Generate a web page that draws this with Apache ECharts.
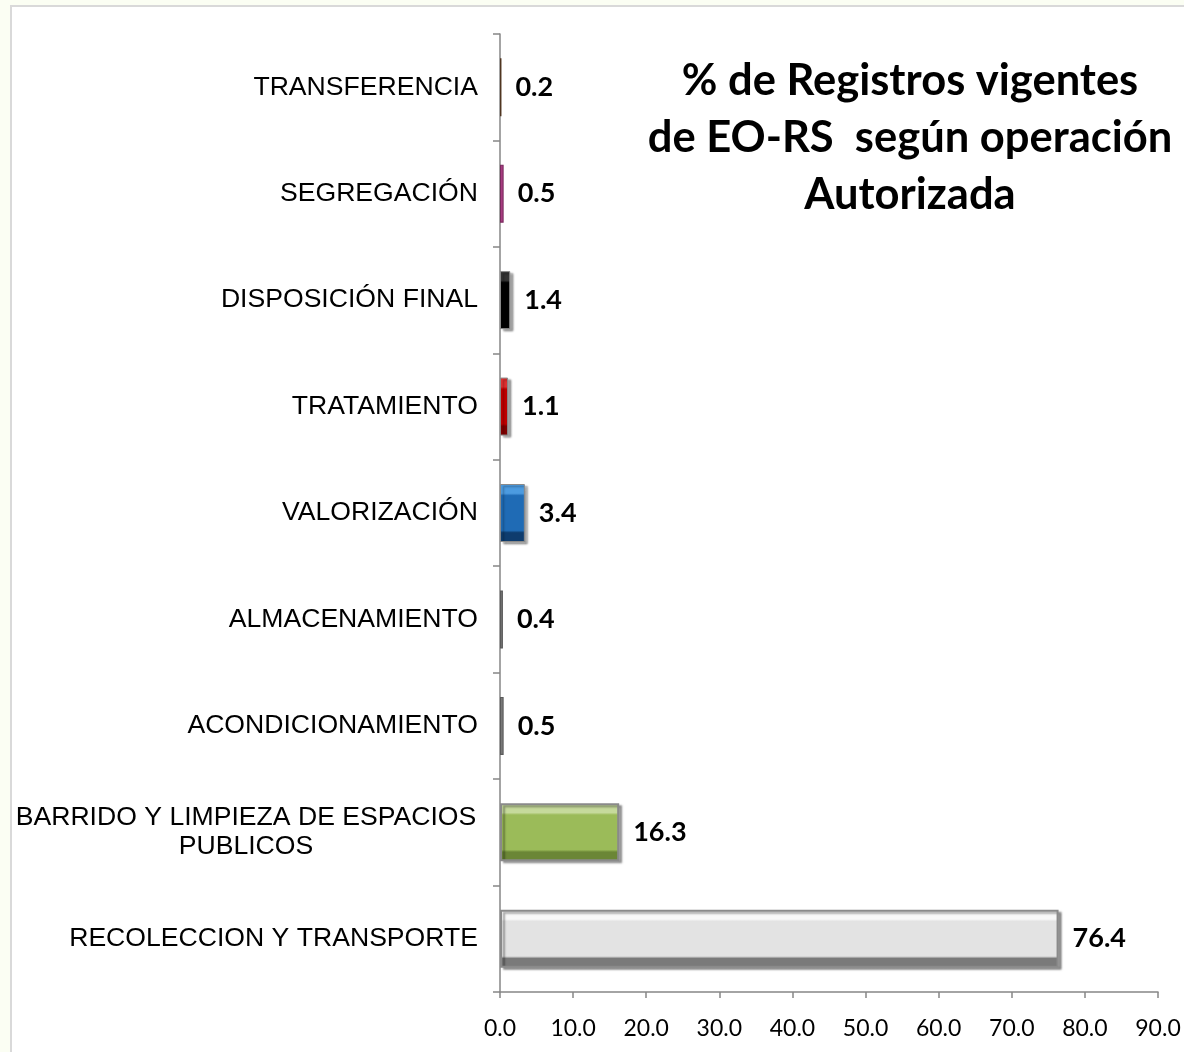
<!DOCTYPE html>
<html>
<head>
<meta charset="utf-8">
<script src="https://cdn.jsdelivr.net/npm/echarts@6/dist/echarts.min.js"></script>
<style>
html,body{margin:0;padding:0;background:#fbfef3;}
#chart{width:1184px;height:1052px;}
</style>
</head>
<body>
<div id="chart"></div>
<script>
const categories = [
  'RECOLECCION Y TRANSPORTE',
  'BARRIDO Y LIMPIEZA DE ESPACIOS\nPUBLICOS',
  'ACONDICIONAMIENTO',
  'ALMACENAMIENTO',
  'VALORIZACIÓN',
  'TRATAMIENTO',
  'DISPOSICIÓN FINAL',
  'SEGREGACIÓN',
  'TRANSFERENCIA'
];
const values = [76.4, 16.3, 0.5, 0.4, 3.4, 1.1, 1.4, 0.5, 0.2];
const barColors = [
  ['#f8f8f8', '#e3e3e3', '#7a7a7a'],
  ['#c6da9c', '#9bbb59', '#6b8636'],
  ['#a0a0a0', '#808080', '#5a5a5a'],
  ['#a0a0a0', '#808080', '#5a5a5a'],
  ['#4c9be0', '#1f6bb5', '#0e3c6e'],
  ['#e03030', '#c00000', '#800000'],
  ['#333333', '#000000', '#000000'],
  ['#d060a8', '#b3408a', '#7a2a5e'],
  ['#9a7550', '#7a5535', '#4f3520']
];
const xTicks = [0, 10, 20, 30, 40, 50, 60, 70, 80, 90];
const titleLines = ['% de Registros vigentes', 'de EO-RS  según operación', 'Autorizada'];

function bevel(c) {
  return {
    type: 'linear', x: 0, y: 0, x2: 0, y2: 1,
    colorStops: [
      {offset: 0, color: c[0]},
      {offset: 0.16, color: c[0]},
      {offset: 0.2, color: c[1]},
      {offset: 0.8, color: c[1]},
      {offset: 0.84, color: c[2]},
      {offset: 1, color: c[2]}
    ]
  };
}

const chart = echarts.init(document.getElementById('chart'));
chart.setOption({
  backgroundColor: 'transparent',
  animation: false,
  graphic: [{
    type: 'rect', z: -10,
    shape: {x: 11, y: 6, width: 1200, height: 1100},
    style: {fill: '#ffffff', stroke: '#d9d9d9', lineWidth: 2}
  }],
  title: {
    text: titleLines.join('\n'),
    left: 905, top: 47, textAlign: 'center',
    textStyle: {fontFamily: 'Lato', fontWeight: 'bold', fontSize: 43.5, lineHeight: 57, color: '#000'}
  },
  grid: {left: 500, right: 26, top: 34, bottom: 60, containLabel: false},
  xAxis: {
    type: 'value', min: 0, max: 90, interval: 10,
    axisLine: {show: true, lineStyle: {color: '#868686', width: 1.5}},
    axisTick: {show: true, length: 6, lineStyle: {color: '#868686', width: 1.5}},
    splitLine: {show: false},
    axisLabel: {
      margin: 25, color: '#000', fontFamily: 'Lato', fontSize: 23,
      formatter: v => xTicks.includes(v) ? v.toFixed(1) : ''
    }
  },
  yAxis: {
    type: 'category', data: categories,
    axisLine: {show: true, lineStyle: {color: '#868686', width: 1.5}},
    axisTick: {show: true, length: 7, lineStyle: {color: '#868686', width: 1.5}},
    axisLabel: {
      margin: 22, color: '#000', fontFamily: 'Liberation Sans', fontSize: 26.6, lineHeight: 29,
      formatter: v => v.indexOf('\n') >= 0 ? '{c|' + v + '}' : v,
      rich: {c: {width: 464, align: 'center', fontFamily: 'Liberation Sans', fontSize: 26.6, lineHeight: 29, color: '#000'}}
    }
  },
  series: [{
    type: 'bar', barWidth: 58,
    data: values.map((v, i) => ({
      value: v,
      itemStyle: v < 1 ? {
        color: barColors[i][1], borderColor: barColors[i][2], borderWidth: 1.2
      } : {
        color: bevel(barColors[i]),
        borderColor: '#8a8a8a', borderWidth: v < 5 ? 1 : 2,
        shadowColor: 'rgba(0,0,0,0.35)', shadowOffsetX: 3, shadowOffsetY: 2, shadowBlur: 2
      }
    })),
    label: {
      show: true, position: 'right', distance: 14,
      fontFamily: 'Lato', fontWeight: 'bold', fontSize: 27, color: '#000',
      formatter: p => p.value.toFixed(1)
    }
  }]
});
</script>
</body>
</html>
